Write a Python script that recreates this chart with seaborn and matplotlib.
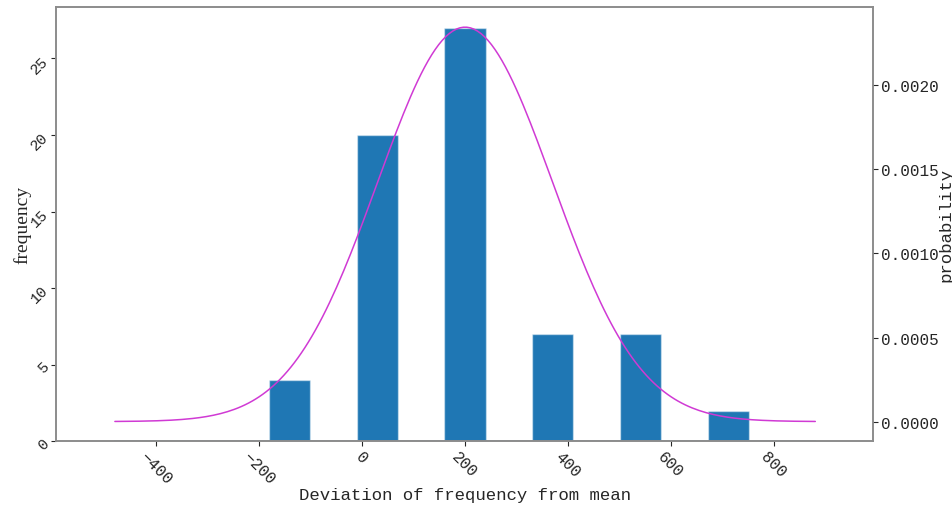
import numpy as np
import pandas as pd
import seaborn as sns
import matplotlib.pyplot as plt

# histogram
bin_centers = [-140, 30, 201, 371, 541, 712]
counts = [4, 20, 27, 7, 7, 2]
bin_width = 170.3

# fitted normal curve (mean / std read from the peak and the span of the line)
mu = 201
sigma = 170

sns.set_style("ticks")
plt.rcParams['font.family'] = ['Liberation Mono', 'DejaVu Sans']

fig, ax1 = plt.subplots(figsize=(9.52, 5.06), dpi=100)
fig.subplots_adjust(left=0.059, right=0.917, top=0.984, bottom=0.126)

edges = [c - bin_width / 2 for c in bin_centers] + [bin_centers[-1] + bin_width / 2]
sns.histplot(x=bin_centers, weights=counts, bins=edges, shrink=0.47, alpha=1,
             color='#1f77b4', edgecolor=(1, 1, 1, 0.45), linewidth=1, ax=ax1)

x = np.linspace(mu - 4 * sigma, mu + 4 * sigma, 200)
pdf = np.exp(-(x - mu) ** 2 / (2 * sigma ** 2)) / (sigma * np.sqrt(2 * np.pi))
curve = pd.DataFrame({'x': x, 'p': pdf})

# the pdf on the count axis shows up as a line along zero
sns.lineplot(data=curve, x='x', y='p', color='#1f77b4', linewidth=1.5, alpha=0.6, ax=ax1)
ax1.set_xlim(-593, 993)
ax1.set_ylim(0, 28.35)

ax2 = ax1.twinx()
sns.lineplot(data=curve, x='x', y='p', color='#d03ad4', linewidth=1.1, ax=ax2)
ax2.set_ylim(-0.000117, 0.002466)
ax2.set_yticks([0, 0.0005, 0.001, 0.0015, 0.002])
ax2.set_yticklabels(['0.0000', '0.0005', '0.0010', '0.0015', '0.0020'])

ax1.set_xticks([-400, -200, 0, 200, 400, 600, 800])
ax1.tick_params(axis='x', labelrotation=-45, labelsize=11.5, pad=2)
ax1.tick_params(axis='y', labelrotation=45, labelsize=11, pad=0)
ax2.tick_params(axis='y', labelsize=11.5, pad=2)

ax1.set_xlabel('Deviation of frequency from mean', fontsize=12.5, labelpad=0)
ax1.set_ylabel('frequency', fontsize=14, family=['Liberation Serif'], labelpad=-2)
ax2.set_ylabel('probability', fontsize=12.5, labelpad=0)

for ax in (ax1, ax2):
    for s in ax.spines.values():
        s.set_visible(True)
        s.set_color('0.55')
        s.set_linewidth(1.2)

fig.savefig('out.png', dpi=100)
